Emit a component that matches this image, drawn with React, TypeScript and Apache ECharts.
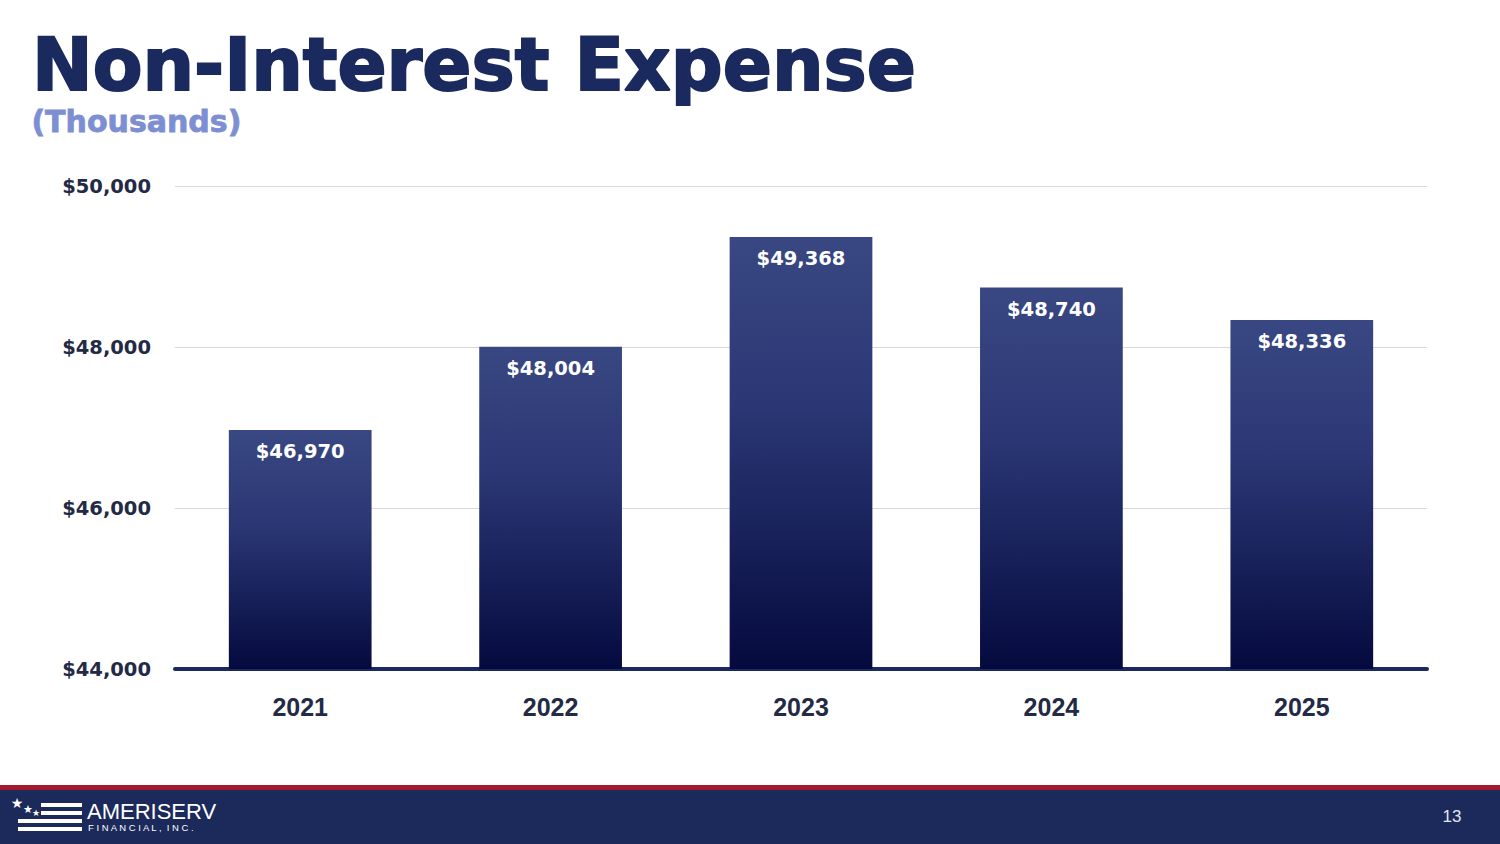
import React, { useEffect, useRef } from "react";
import * as echarts from "echarts";

const categories = ["2021", "2022", "2023", "2024", "2025"];
const expenseValues = [46970, 48004, 49368, 48740, 48336];
const yTicks = { min: 44000, max: 50000, interval: 2000 };
const titleText = "Non-Interest Expense";
const subtitleText = "(Thousands)";
const pageNumber = "13";

const fmt = (v: number) => "$" + v.toLocaleString("en-US");

export default function App() {
  const ref = useRef<HTMLDivElement>(null);
  useEffect(() => {
    document.body.style.margin = "0";
    const chart = echarts.init(ref.current!, null, { renderer: "svg" });
    const navy = "#1b2a5e";
    chart.setOption({
      animation: false,
      backgroundColor: "#ffffff",
      grid: { left: 175, right: 73, top: 186, bottom: 175, containLabel: false },
      xAxis: {
        type: "category",
        data: categories,
        axisLine: { show: true, lineStyle: { color: navy, width: 4 } },
        axisTick: { show: false },
        axisLabel: {
          margin: 25,
          fontSize: 25,
          fontWeight: "bold",
          color: "#232a45",
          fontFamily: "Liberation Sans, Arial, sans-serif",
        },
      },
      yAxis: {
        type: "value",
        min: yTicks.min,
        max: yTicks.max,
        interval: yTicks.interval,
        axisLine: { show: false },
        axisTick: { show: false },
        splitLine: { lineStyle: { color: "#d9d9d9", width: 1 } },
        axisLabel: {
          margin: 24,
          fontSize: 19.5,
          fontWeight: "bold",
          color: "#232a45",
          fontFamily: "DejaVu Sans, sans-serif",
          formatter: (v: number) => fmt(v),
        },
      },
      series: [
        {
          type: "bar",
          data: expenseValues,
          barWidth: "57%",
          itemStyle: {
            color: new echarts.graphic.LinearGradient(0, 0, 0, 1, [
              { offset: 0, color: "#394783" },
              { offset: 0.4, color: "#2a3774" },
              { offset: 1, color: "#050a3e" },
            ]),
          },
          label: {
            show: true,
            position: "insideTop",
            distance: 12,
            fontSize: 19.5,
            fontWeight: "bold",
            color: "#ffffff",
            fontFamily: "DejaVu Sans, sans-serif",
            formatter: (p: any) => fmt(p.value),
          },
        },
      ],
      graphic: [
        {
          type: "text",
          left: 31,
          top: 27,
          style: {
            text: titleText,
            fontSize: 72.5,
            fontWeight: "bold",
            fill: navy,
            stroke: navy,
            lineWidth: 2,
            fontFamily: "DejaVu Sans, sans-serif",
          },
        },
        {
          type: "text",
          left: 31,
          top: 106,
          style: {
            text: subtitleText,
            fontSize: 30,
            fontWeight: "bold",
            fill: "#7d8fd2",
            stroke: "#7d8fd2",
            lineWidth: 0.8,
            fontFamily: "DejaVu Sans, sans-serif",
          },
        },
        // footer
        {
          type: "rect",
          shape: { x: 0, y: 785, width: 1500, height: 6 },
          style: { fill: "#a3192d" },
        },
        {
          type: "rect",
          shape: { x: 0, y: 790, width: 1500, height: 54 },
          style: { fill: "#1b2a5a" },
        },
        {
          type: "text",
          x: 1452,
          y: 816,
          style: {
            text: pageNumber,
            fontSize: 17,
            fill: "#e3e7f2",
            align: "center",
            verticalAlign: "middle",
            fontFamily: "Liberation Sans, Arial, sans-serif",
          },
        },
        // logo stars
        {
          type: "text",
          x: 17,
          y: 803,
          style: { text: "★", fontSize: 14, fill: "#ffffff", align: "center", verticalAlign: "middle", fontFamily: "DejaVu Sans" },
        },
        {
          type: "text",
          x: 28,
          y: 809,
          style: { text: "★", fontSize: 11, fill: "#ffffff", align: "center", verticalAlign: "middle", fontFamily: "DejaVu Sans" },
        },
        {
          type: "text",
          x: 36,
          y: 813,
          style: { text: "★", fontSize: 9, fill: "#ffffff", align: "center", verticalAlign: "middle", fontFamily: "DejaVu Sans" },
        },
        // logo stripes
        { type: "rect", shape: { x: 41, y: 803, width: 41, height: 4 }, style: { fill: "#ffffff" } },
        { type: "rect", shape: { x: 41, y: 811, width: 41, height: 4 }, style: { fill: "#ffffff" } },
        { type: "rect", shape: { x: 18, y: 819, width: 64, height: 4 }, style: { fill: "#ffffff" } },
        { type: "rect", shape: { x: 18, y: 827, width: 64, height: 4 }, style: { fill: "#ffffff" } },
        {
          type: "text",
          x: 87,
          y: 800,
          style: {
            text: "AMERISERV",
            fontSize: 22,
            fill: "#ffffff",
            fontFamily: "Liberation Sans Narrow, Liberation Sans, Arial, sans-serif",
          },
        },
        {
          type: "text",
          x: 88,
          y: 822,
          style: {
            text: "F I N A N C I A L ,  I N C .",
            fontSize: 9.5,
            fill: "#ffffff",
            fontFamily: "Liberation Sans, Arial, sans-serif",
          },
        },
      ],
    });
    return () => chart.dispose();
  }, []);
  return <div ref={ref} style={{ position: "fixed", left: 0, top: 0, width: 1500, height: 844 }} />;
}
